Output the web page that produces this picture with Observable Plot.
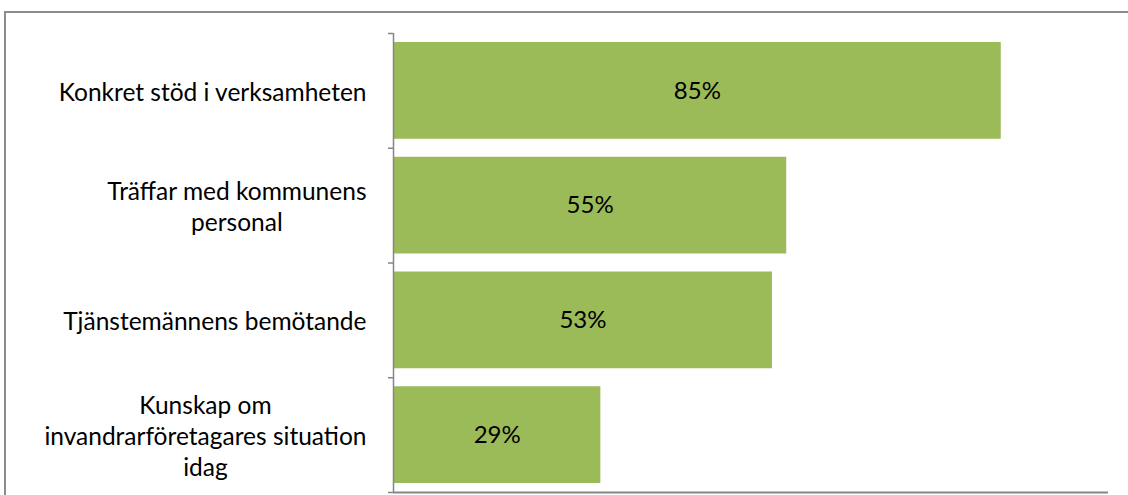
<!DOCTYPE html>
<html>
<head>
<meta charset="utf-8">
<script src="https://cdn.jsdelivr.net/npm/d3@7"></script>
<script src="https://cdn.jsdelivr.net/npm/@observablehq/plot@0.6"></script>
<style>
  html, body { margin: 0; padding: 0; background: #fff; overflow: hidden; }
  #wrap { position: relative; width: 1128px; height: 495px; overflow: hidden; }
  #border { position: absolute; left: 4px; top: 11px; width: 1200px; height: 600px; border: 2px solid #8c8c8c; box-sizing: border-box; }
  #chart { position: absolute; left: 0; top: 0; }
</style>
</head>
<body>
<div id="wrap"><div id="border"></div><div id="chart"></div></div>
<script>
const categories = [
  "Konkret stöd i verksamheten",
  "Träffar med kommunens personal",
  "Tjänstemännens bemötande",
  "Kunskap om invandrarföretagares situation idag"
];
const tickLabels = [
  "Konkret stöd i verksamheten",
  "Träffar med kommunens\npersonal",
  "Tjänstemännens bemötande",
  "Kunskap om\ninvandrarföretagares situation\nidag"
];
const values = [0.85, 0.55, 0.53, 0.29];

const data = categories.map((c, i) => ({category: c, label: tickLabels[i], value: values[i], i}));
const boundaries = d3.range(categories.length + 1);
const centers = data.map(d => d.i + 0.5);

const chart = Plot.plot({
  width: 1128,
  height: 495,
  marginLeft: 393,
  marginRight: 20,
  marginTop: 33,
  marginBottom: 3,
  style: {fontFamily: "Lato", fontSize: "24px", color: "#000", background: "transparent"},
  x: {domain: [0, 1], axis: null},
  y: {domain: [0, categories.length], reverse: true, axis: null},
  marks: [
    Plot.rectX(data, {x1: d => 0, x2: d => d.value, y1: d => d.i, y2: d => d.i + 1, insetTop: 9, insetBottom: 9, fill: "#9BBB59"}),
    Plot.axisY(boundaries, {tickSize: 5, tickFormat: () => "", stroke: "#868686", strokeWidth: 1.5}),
    Plot.axisY(centers, {tickSize: 0, tickPadding: 27, textAnchor: "end", fontSize: 24.5, lineHeight: 1.27,
      tickFormat: v => tickLabels[Math.floor(v)], fill: "#000"}),
    Plot.ruleX([0], {stroke: "#868686", strokeWidth: 1.5}),
    Plot.ruleY([categories.length], {stroke: "#868686", strokeWidth: 2}),
    Plot.text(data, {x: d => d.value / 2, y: d => d.i + 0.5, text: d => Math.round(d.value * 100) + "%", fontSize: 24, fill: "#000"})
  ]
});
document.getElementById("chart").append(chart);

// Center the lines of multi-line labels within their right-aligned block (as in the original).
chart.querySelectorAll("text").forEach(t => {
  const spans = t.querySelectorAll("tspan");
  if (spans.length > 1) {
    const w = Math.max(...Array.from(spans, s => s.getComputedTextLength()));
    spans.forEach(s => { s.setAttribute("x", -w / 2); s.setAttribute("text-anchor", "middle"); });
  }
});
</script>
</body>
</html>
